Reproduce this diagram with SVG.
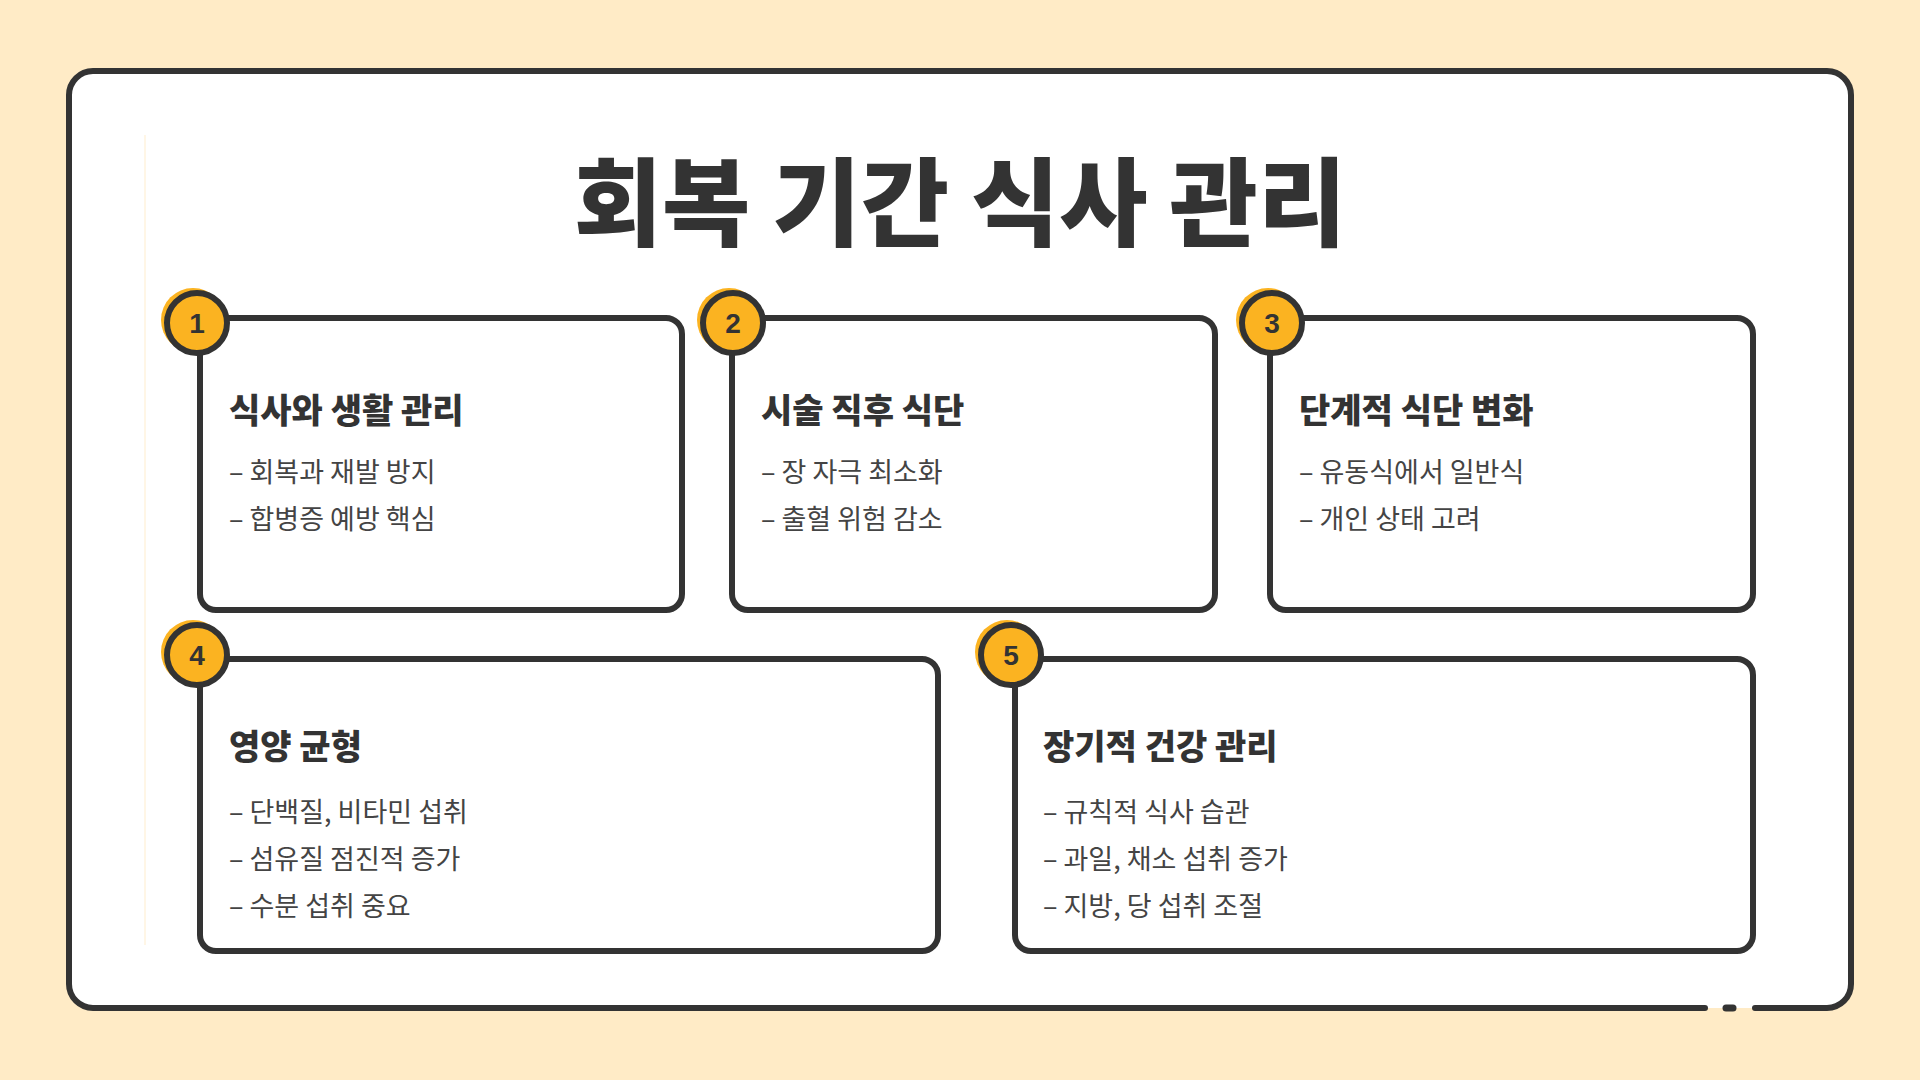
<svg xmlns="http://www.w3.org/2000/svg" width="1920" height="1080" viewBox="0 0 1920 1080">
<style>
.card{fill:#fff;stroke:#333;stroke-width:6}
.sh{fill:#FBB321}
.bd{fill:#FBB321;stroke:#333;stroke-width:6}
.num{font-family:"Liberation Sans",Arial,sans-serif;font-weight:bold;font-size:28px;fill:#333;text-anchor:middle}
.h{font-family:"Noto Sans CJK KR","Noto Sans",sans-serif;font-weight:900;font-size:34px;fill:#333}
.b{font-family:"Noto Sans CJK KR","Noto Sans",sans-serif;font-size:27px;fill:#444}
</style>
<rect width="1920" height="1080" fill="#FFEBC6"/>
<path d="M1705 1008 H93 a24 24 0 0 1 -24 -24 V95 a24 24 0 0 1 24 -24 H1827 a24 24 0 0 1 24 24 V984 a24 24 0 0 1 -24 24 H1755" fill="#fff" stroke="#333" stroke-width="6" stroke-linecap="round"/>
<line x1="1726" y1="1008" x2="1733" y2="1008" stroke="#333" stroke-width="7" stroke-linecap="round"/>
<line x1="145" y1="135" x2="145" y2="945" stroke="#FFF6E6" stroke-width="2"/>
<text x="960" y="238" text-anchor="middle" font-family="'Noto Sans CJK KR',sans-serif" font-weight="900" font-size="96" fill="#333">회복 기간 식사 관리</text>
<g id="card1">
<rect class="card" x="200" y="318" width="482" height="292" rx="16"/>
<circle class="sh" cx="193" cy="320" r="32"/><circle class="bd" cx="197" cy="323" r="30"/>
<text class="num" x="197" y="333">1</text>
<text class="h" x="229" y="423">식사와 생활 관리</text>
<text class="b" x="229" y="482">– 회복과 재발 방지</text>
<text class="b" x="229" y="529">– 합병증 예방 핵심</text>
</g>
<g id="card2">
<rect class="card" x="732" y="318" width="483" height="292" rx="16"/>
<circle class="sh" cx="729" cy="320" r="32"/><circle class="bd" cx="733" cy="323" r="30"/>
<text class="num" x="733" y="333">2</text>
<text class="h" x="761" y="423">시술 직후 식단</text>
<text class="b" x="761" y="482">– 장 자극 최소화</text>
<text class="b" x="761" y="529">– 출혈 위험 감소</text>
</g>
<g id="card3">
<rect class="card" x="1270" y="318" width="483" height="292" rx="16"/>
<circle class="sh" cx="1268" cy="320" r="32"/><circle class="bd" cx="1272" cy="323" r="30"/>
<text class="num" x="1272" y="333">3</text>
<text class="h" x="1299" y="423">단계적 식단 변화</text>
<text class="b" x="1299" y="482">– 유동식에서 일반식</text>
<text class="b" x="1299" y="529">– 개인 상태 고려</text>
</g>
<g id="card4">
<rect class="card" x="200" y="659" width="738" height="292" rx="16"/>
<circle class="sh" cx="193" cy="652" r="32"/><circle class="bd" cx="197" cy="655" r="30"/>
<text class="num" x="197" y="665">4</text>
<text class="h" x="229" y="759">영양 균형</text>
<text class="b" x="229" y="822">– 단백질, 비타민 섭취</text>
<text class="b" x="229" y="869">– 섬유질 점진적 증가</text>
<text class="b" x="229" y="916">– 수분 섭취 중요</text>
</g>
<g id="card5">
<rect class="card" x="1015" y="659" width="738" height="292" rx="16"/>
<circle class="sh" cx="1007" cy="652" r="32"/><circle class="bd" cx="1011" cy="655" r="30"/>
<text class="num" x="1011" y="665">5</text>
<text class="h" x="1043" y="759">장기적 건강 관리</text>
<text class="b" x="1043" y="822">– 규칙적 식사 습관</text>
<text class="b" x="1043" y="869">– 과일, 채소 섭취 증가</text>
<text class="b" x="1043" y="916">– 지방, 당 섭취 조절</text>
</g>
<g id="connectors"/>
</svg>
